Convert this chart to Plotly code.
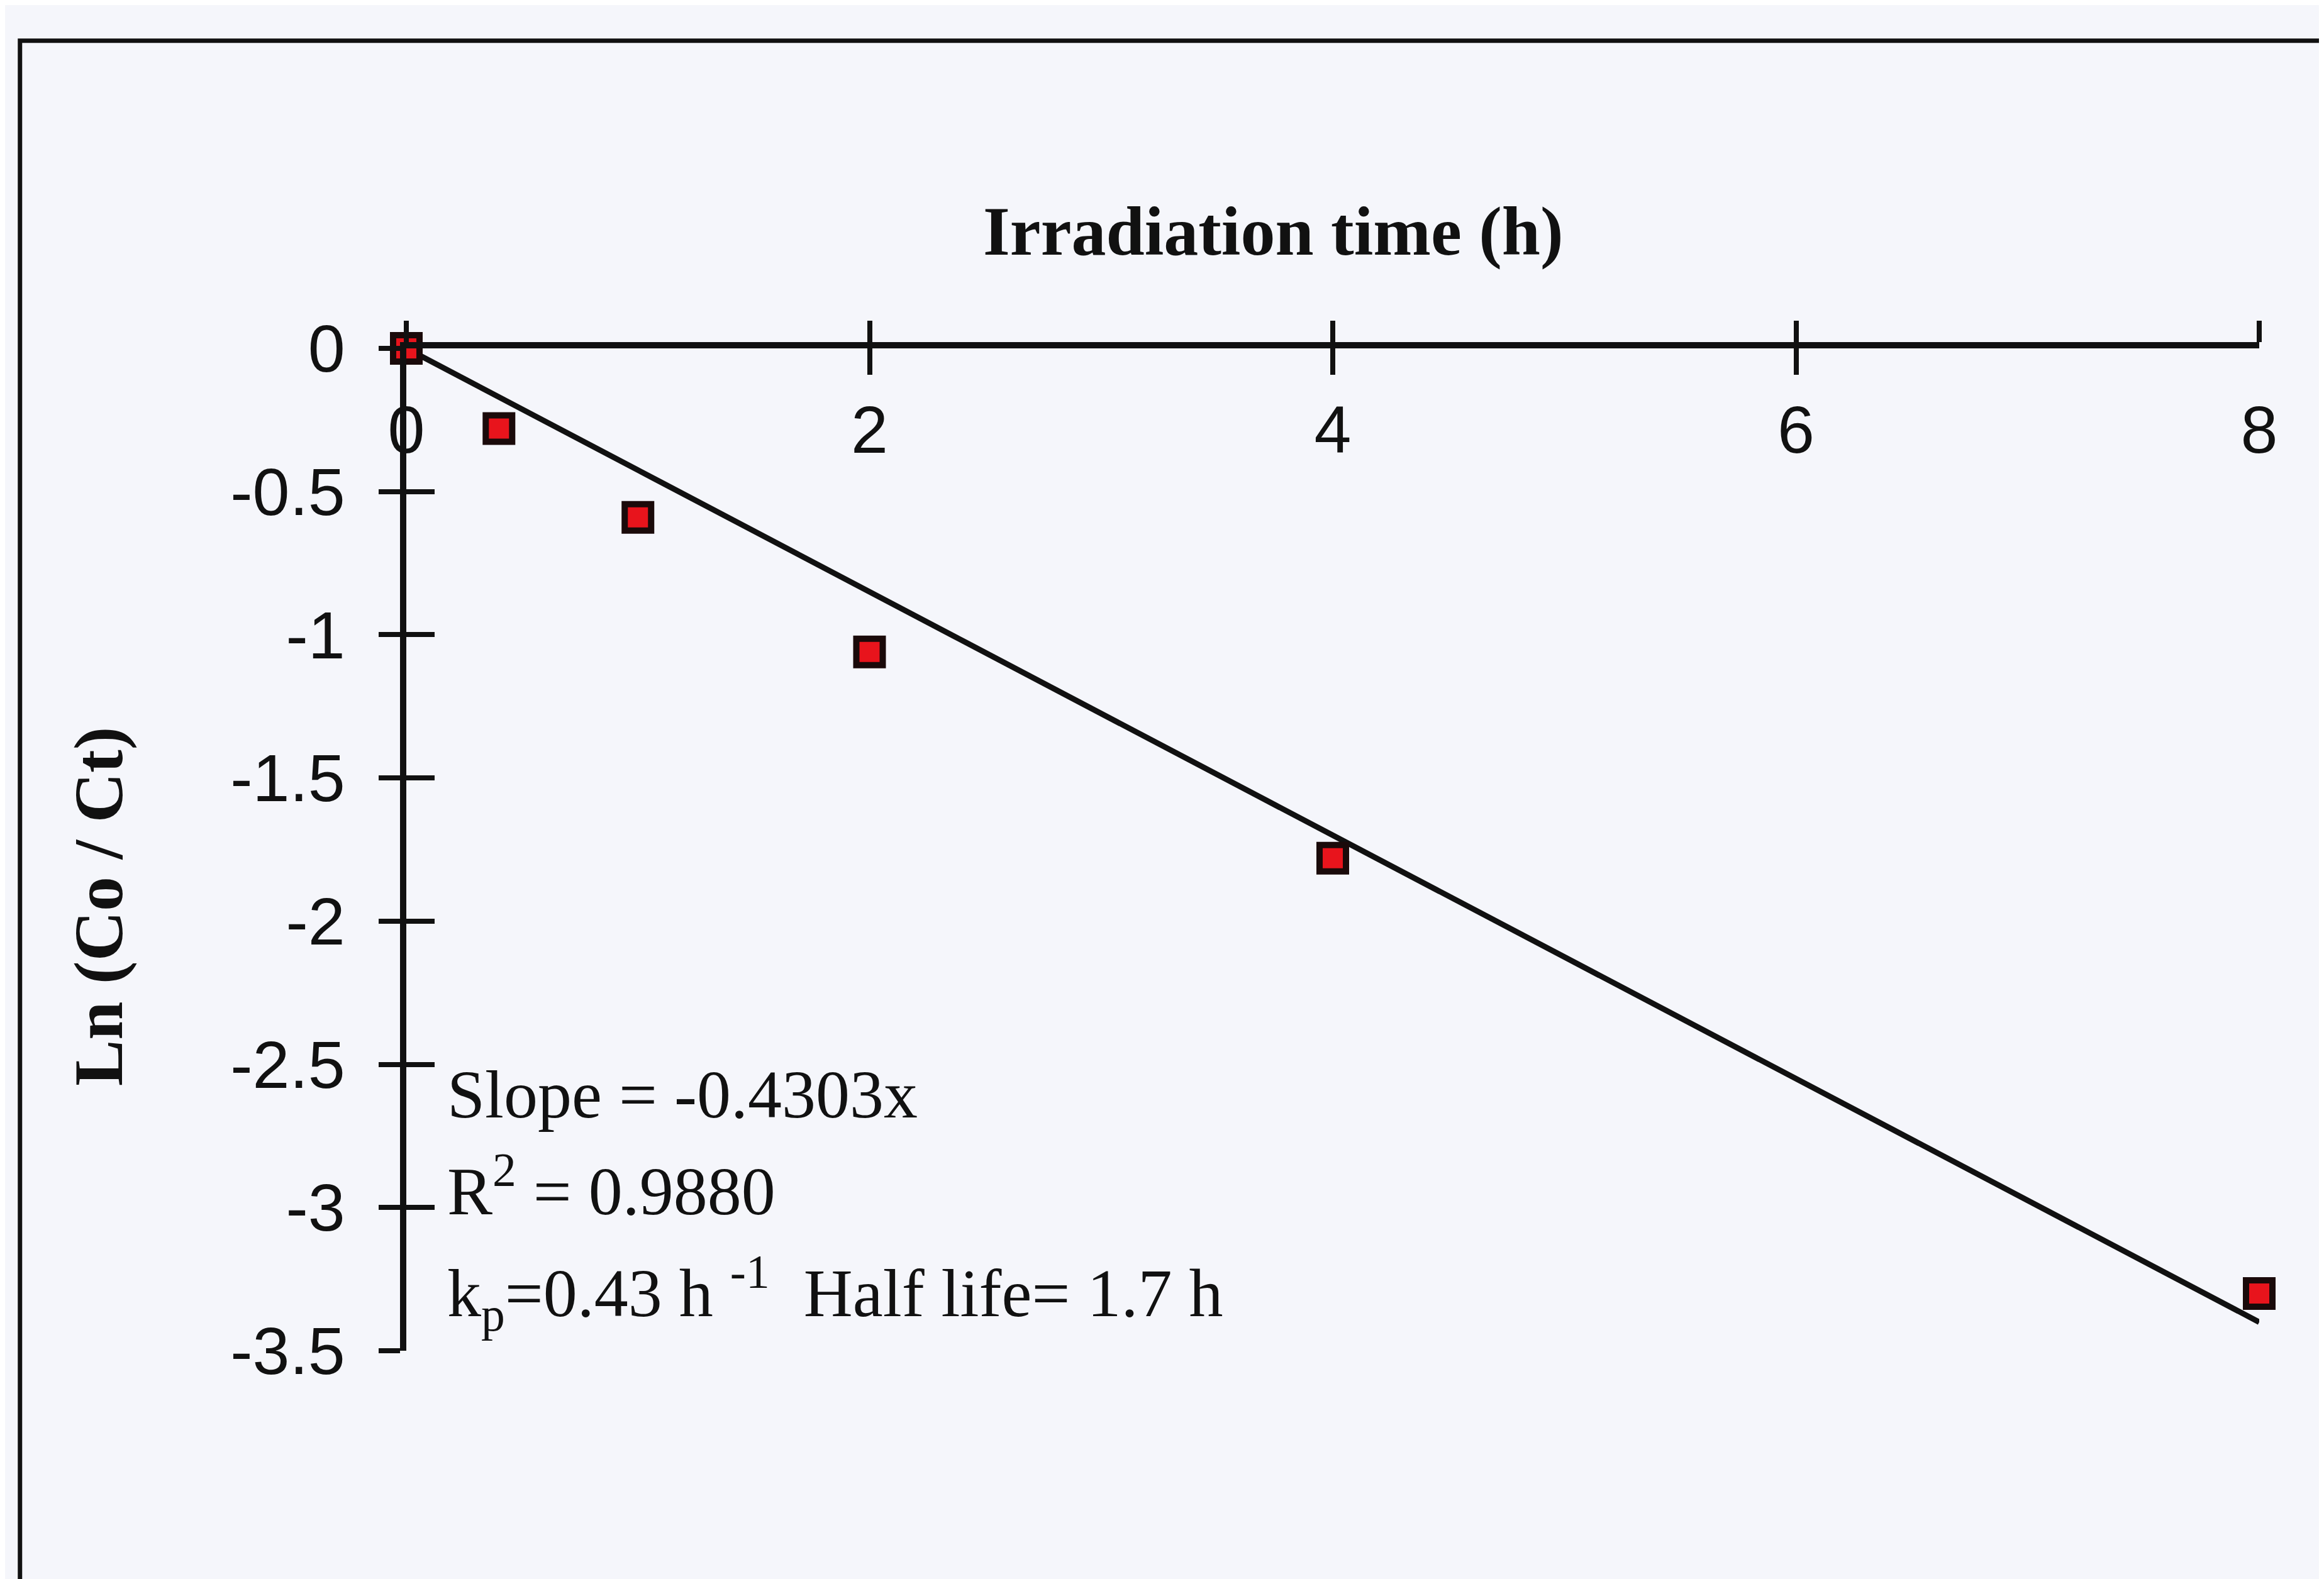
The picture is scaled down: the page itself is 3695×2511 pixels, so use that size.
import plotly.graph_objects as go

# ---- data ----
time_h = [0, 0.4, 1, 2, 4, 8]
ln_co_ct = [0.0, -0.28, -0.59, -1.06, -1.78, -3.30]

trend_x = [0, 8]
trend_y = [0.0, -3.40]

x_tickvals = [0, 2, 4, 6, 8]
x_ticktext = ["0", "2", "4", "6", "8"]
y_tickvals = [0, -0.5, -1, -1.5, -2, -2.5, -3, -3.5]
y_ticktext = ["0", "-0.5", "-1", "-1.5", "-2", "-2.5", "-3", "-3.5"]

x_title = "Irradiation time (h)"
y_title = "Ln (Co / Ct)"
note_lines = [
    "Slope = -0.4303x",
    "R<sup>2</sup> = 0.9880",
    "k<sub>p</sub>=0.43 h <sup>-1</sup>  Half life= 1.7 h",
]

W, H = 3695, 2511
BG = "#f5f6fb"
TICK_FONT = dict(family="Liberation Sans, Arial", size=106, color="#111")
SERIF = "Liberation Serif, Times New Roman"

fig = go.Figure()

fig.add_trace(go.Scatter(
    x=trend_x, y=trend_y, mode="lines",
    line=dict(color="#111111", width=9),
    cliponaxis=False, showlegend=False, hoverinfo="skip",
))
fig.add_trace(go.Scatter(
    x=time_h, y=ln_co_ct, mode="markers",
    marker=dict(symbol="square", size=42, color="#e8141c",
                line=dict(color="#1a0a0a", width=10)),
    cliponaxis=False, showlegend=False,
))
# invisible trace to carry the overlay axes (inner half of crossing ticks)
fig.add_trace(go.Scatter(
    x=[None], y=[None], xaxis="x2", yaxis="y2",
    mode="markers", showlegend=False, hoverinfo="skip",
))

fig.update_layout(
    width=W, height=H,
    paper_bgcolor=BG, plot_bgcolor=BG,
    margin=dict(l=638, r=111, t=546, b=371),
    xaxis=dict(
        side="top", range=[0, 8], tickvals=x_tickvals, ticktext=x_ticktext,
        showline=True, linecolor="#111", linewidth=10,
        ticks="outside", ticklen=34, tickwidth=8, tickcolor="#111",
        ticklabelposition="inside", ticklabelstandoff=110,
        ticklabeloverflow="allow",
        tickfont=TICK_FONT, showgrid=False, zeroline=False,
    ),
    yaxis=dict(
        range=[-3.5, 0], tickvals=y_tickvals, ticktext=y_ticktext,
        showline=True, linecolor="#111", linewidth=10,
        ticks="outside", ticklen=34, tickwidth=8, tickcolor="#111",
        ticklabelstandoff=32, ticklabeloverflow="allow",
        tickfont=TICK_FONT, showgrid=False, zeroline=False,
    ),
    xaxis2=dict(
        overlaying="x", side="top", anchor="y", range=[0, 8],
        tickvals=x_tickvals, ticks="inside", ticklen=42, tickwidth=8,
        tickcolor="#111", showticklabels=False, showline=False,
        showgrid=False, zeroline=False,
    ),
    yaxis2=dict(
        overlaying="y", side="left", anchor="x", range=[-3.5, 0],
        tickvals=y_tickvals, ticks="inside", ticklen=45, tickwidth=8,
        tickcolor="#111", showticklabels=False, showline=False,
        showgrid=False, zeroline=False,
    ),
    shapes=[dict(
        type="rect", xref="paper", yref="paper",
        x0=-0.2085, x1=1.06, y0=-0.27, y1=1.307,
        line=dict(color="#111", width=7), fillcolor="rgba(0,0,0,0)",
        layer="below",
    )],
)

annotations = [
    dict(text="<b>" + x_title + "</b>", xref="paper", yref="paper",
         x=0.468, y=1.117, xanchor="center", yanchor="middle",
         showarrow=False, font=dict(family=SERIF, size=110, color="#111")),
    dict(text="<b>" + y_title + "</b>", xref="paper", yref="paper",
         x=-0.166, y=0.4435, xanchor="center", yanchor="middle", textangle=-90,
         showarrow=False, font=dict(family=SERIF, size=110, color="#111")),
]
note_y = [-2.605, -2.925, -3.30]
for txt, yy in zip(note_lines, note_y):
    annotations.append(dict(
        text=txt, xref="x", yref="y", x=0.17, y=yy,
        xanchor="left", yanchor="middle", showarrow=False,
        font=dict(family=SERIF, size=108, color="#111"),
    ))
fig.update_layout(annotations=annotations)

fig.write_html("out.html")
